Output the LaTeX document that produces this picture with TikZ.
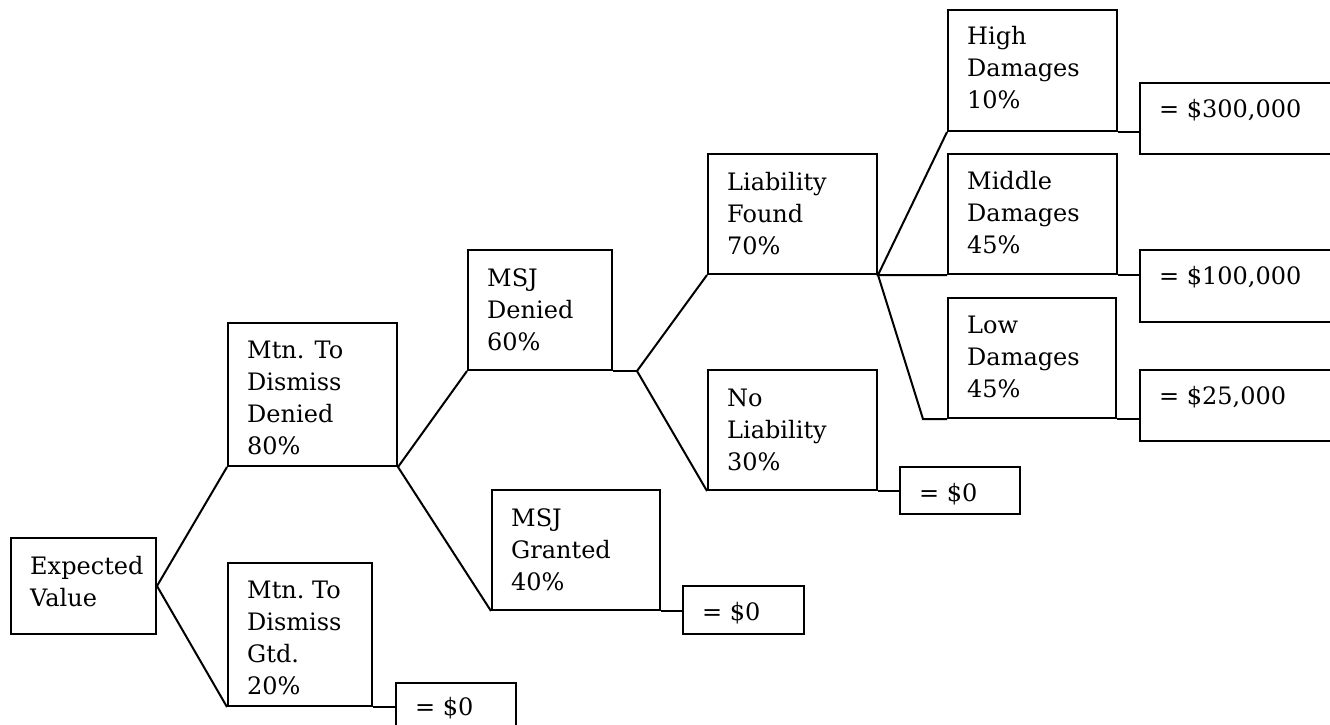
\documentclass[tikz,border=0pt]{standalone}
\usepackage{fontspec}
\setmainfont{DejaVu Serif}
\begin{document}
\begin{tikzpicture}[x=1pt,y=-1pt,
  box/.style={draw, line width=2pt, rectangle, inner sep=0pt, anchor=north west},
  txt/.style={anchor=base west, inner sep=0pt, font=\fontsize{24}{32}\selectfont},
  conn/.style={line width=2pt}]
\useasboundingbox (0,0) rectangle (1330,725);
\clip (0,0) rectangle (1330,725);
\newcommand\tbox[7]{%
  \node[box, minimum width=#4pt, minimum height=#5pt] (#1) at (#2,#3) {};
  \node[txt] (#1-t) at ([xshift=20pt,yshift=-#6pt]#1.north west)
    {\begin{tabular}[t]{@{}l@{}}#7\end{tabular}};}
% decision boxes
\tbox{ev}{10}{537}{145}{96}{37}{Expected\\Value}
\tbox{md}{227}{322}{169}{143}{36}{Mtn. To\\Dismiss\\Denied\\80\%}
\tbox{mg}{227}{562}{144}{143}{36}{Mtn.\ To\\Dismiss\\Gtd.\\20\%}
\tbox{sd}{467}{249}{144}{120}{37}{MSJ\\Denied\\60\%}
\tbox{sg}{491}{489}{168}{120}{37}{MSJ\\Granted\\40\%}
\tbox{lf}{707}{153}{169}{120}{37}{Liability\\Found\\70\%}
\tbox{nl}{707}{369}{169}{120}{37}{No\\Liability\\30\%}
\tbox{hd}{947}{9}{169}{121}{36}{High\\Damages\\10\%}
\tbox{mdd}{947}{153}{169}{120}{36}{Middle\\Damages\\45\%}
\tbox{ld}{947}{297}{168}{120}{36}{Low\\Damages\\45\%}
% value boxes
\tbox{z1}{395}{682}{120}{60}{33}{= \$0}
\tbox{z2}{682}{585}{121}{48}{35}{= \$0}
\tbox{z3}{899}{466}{120}{47}{35}{= \$0}
\tbox{v3}{1139}{82}{220}{71}{35}{= \$300,000}
\tbox{v1}{1139}{249}{220}{72}{35}{= \$100,000}
\tbox{v2}{1139}{369}{220}{71}{35}{= \$25,000}
% junctions
\coordinate (j1) at ([xshift=24pt]sd.south east);
\coordinate (j2) at ([xshift=-24pt]ld.south west);
% connectors
\draw[conn] (mg.south west) -- (ev.east) -- (md.south west);
\draw[conn] (mg.south east) -- (mg.south east -| z1.west);
\draw[conn] (sd.south west) -- (md.south east) -- (sg.south west);
\draw[conn] (sg.south east) -- (sg.south east -| z2.west);
\draw[conn] (sd.south east) -- (j1);
\draw[conn] (lf.south west) -- (j1) -- (nl.south west);
\draw[conn] (nl.south east) -- (nl.south east -| z3.west);
\draw[conn] (hd.south west) -- (lf.south east) -- (mdd.south west);
\draw[conn] (lf.south east) -- (j2) -- (ld.south west);
\draw[conn] (hd.south east) -- (hd.south east -| v3.west);
\draw[conn] (mdd.south east) -- (mdd.south east -| v1.west);
\draw[conn] (ld.south east) -- (ld.south east -| v2.west);
\end{tikzpicture}
\end{document}
